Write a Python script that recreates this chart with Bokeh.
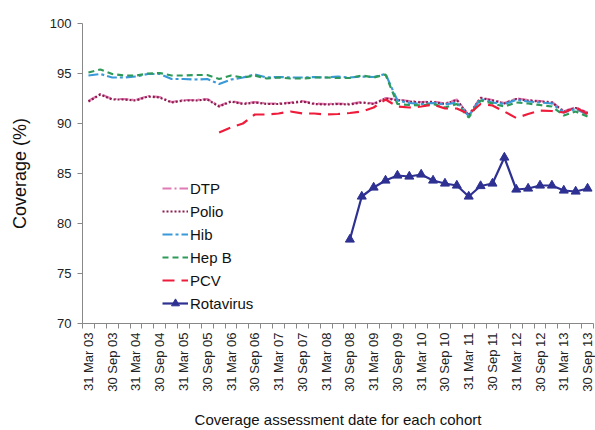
import numpy as np
from bokeh.plotting import figure
from bokeh.models import FixedTicker, Range1d, Legend, LegendItem
from bokeh.embed import file_html
from bokeh.resources import INLINE

# ---- data (quarterly assessment dates, 31 Mar 03 .. 30 Sep 13) ----
tick_labels = ["31 Mar 03", "30 Sep 03", "31 Mar 04", "30 Sep 04", "31 Mar 05",
               "30 Sep 05", "31 Mar 06", "30 Sep 06", "31 Mar 07", "30 Sep 07",
               "31 Mar 08", "30 Sep 08", "31 Mar 09", "30 Sep 09", "31 Mar 10",
               "30 Sep 10", "31 Mar 11", "30 Sep 11", "31 Mar 12", "30 Sep 12",
               "31 Mar 13", "30 Sep 13"]
n_quarters = 43

polio = [92.2, 92.9, 92.4, 92.4, 92.3, 92.7, 92.6, 92.1, 92.3, 92.3, 92.4,
         91.7, 92.2, 91.95, 92.1, 91.95, 91.95, 92.05, 92.2, 91.95, 91.9,
         91.95, 91.9, 92.1, 91.95, 92.5, 92.35, 92.2, 92.1, 92.15, 91.95,
         92.35, 90.8, 92.55, 92.3, 92.0, 92.45, 92.3, 92.2, 92.1, 91.2, 91.55, 91.05]
dtp = [92.25, 92.95, 92.45, 92.45, 92.35, 92.75, 92.65, 92.15, 92.35, 92.35, 92.45,
       91.75, 92.25, 92.0, 92.15, 92.0, 92.0, 92.1, 92.25, 92.0, 91.95,
       92.0, 91.95, 92.15, 92.0, 92.55, 92.4, 92.25, 92.15, 92.2, 92.0,
       92.4, 90.85, 92.6, 92.35, 92.05, 92.5, 92.35, 92.25, 92.15, 91.25, 91.6, 91.1]
hib = [94.8, 94.95, 94.6, 94.6, 94.7, 94.95, 94.95, 94.45, 94.45, 94.4, 94.45,
       93.95, 94.4, 94.6, 94.9, 94.6, 94.65, 94.6, 94.6, 94.65, 94.6,
       94.7, 94.6, 94.7, 94.65, 94.95, 92.3, 92.05, 91.95, 92.05, 91.9,
       92.1, 90.75, 92.45, 92.1, 91.95, 92.35, 92.2, 92.1, 92.0, 91.1, 91.45, 90.9]
hepb = [95.1, 95.4, 94.95, 94.8, 94.8, 95.0, 95.05, 94.8, 94.8, 94.85, 94.85,
        94.45, 94.8, 94.6, 94.8, 94.5, 94.6, 94.5, 94.5, 94.6, 94.6,
        94.55, 94.55, 94.8, 94.6, 94.9, 91.95, 91.85, 91.8, 91.95, 91.6,
        91.95, 90.6, 92.3, 92.0, 91.7, 92.1, 92.0, 91.85, 91.7, 90.8, 91.2, 90.7]
pcv_start = 11
pcv = [89.1, 89.6, 90.0, 90.9, 90.9, 91.0, 91.2, 91.0, 91.0, 90.9,
       90.95, 91.05, 91.2, 91.6, 92.4, 91.7, 91.6, 91.7, 91.9, 91.5,
       91.5, 90.95, 91.95, 91.8, 91.2, 90.55, 90.95, 91.3, 91.25, 91.1, 91.6, 90.95]
rota_start = 22
rota = [78.4, 82.7, 83.6, 84.3, 84.8, 84.7, 84.9, 84.3, 84.0, 83.8, 82.7,
        83.75, 84.0, 86.6, 83.4, 83.5, 83.8, 83.8, 83.3, 83.2, 83.5]

x_all = list(range(n_quarters))
x_pcv = list(range(pcv_start, pcv_start + len(pcv)))
x_rota = list(range(rota_start, rota_start + len(rota)))

FONT = "Liberation Sans"

p = figure(width=595, height=430, output_backend="svg", toolbar_location=None,
           x_range=Range1d(-0.5, n_quarters - 0.5), y_range=Range1d(70, 100),
           min_border_left=82, min_border_right=2, min_border_top=23,
           min_border_bottom=107)
p.outline_line_color = None
p.xgrid.visible = False
p.ygrid.visible = False
p.background_fill_color = "white"
p.border_fill_color = "white"

r_dtp = p.line(x_all, dtp, line_color="#E07AB4", line_width=2.2, line_dash="9 3 2 3")
r_polio = p.line(x_all, polio, line_color="#8C1C4C", line_width=2.2, line_dash="2 2")
r_hib = p.line(x_all, hib, line_color="#3A9AD9", line_width=2.2, line_dash="10 3 3 3")
r_hepb = p.line(x_all, hepb, line_color="#2E9A5A", line_width=2.2, line_dash="6 4")
r_pcv = p.line(x_pcv, pcv, line_color="#EE1C3A", line_width=2.2, line_dash="12 7")
r_rota_l = p.line(x_rota, rota, line_color="#2E3192", line_width=2.2)
r_rota_m = p.scatter(x_rota, rota, marker="triangle", size=9,
                     fill_color="#2E3192", line_color="#2E3192")

# axes
p.xaxis.ticker = FixedTicker(ticks=list(range(0, n_quarters, 2)),
                             minor_ticks=[i - 0.5 for i in range(n_quarters + 1)])
p.xaxis.major_label_overrides = {2 * i: lab for i, lab in enumerate(tick_labels)}
p.xaxis.major_label_orientation = np.pi / 2
p.xaxis.major_tick_line_color = None
p.xaxis.major_tick_out = 5
p.xaxis.major_tick_in = 0
p.xaxis.minor_tick_out = 5
p.xaxis.minor_tick_in = 0
p.xaxis.minor_tick_line_color = "#888888"
p.xaxis.major_label_standoff = 4
p.xaxis.axis_label = "Coverage assessment date for each cohort"
p.xaxis.axis_label_standoff = 16

p.yaxis.ticker = FixedTicker(ticks=[70, 75, 80, 85, 90, 95, 100], minor_ticks=[])
p.yaxis.major_tick_out = 5
p.yaxis.major_tick_in = 0
p.yaxis.minor_tick_line_color = None
p.yaxis.major_tick_line_color = "#888888"
p.yaxis.major_label_standoff = 6
p.yaxis.axis_label = "Coverage (%)"
p.yaxis.axis_label_standoff = 17

for ax in (p.xaxis[0], p.yaxis[0]):
    ax.axis_line_color = "#888888"
    ax.major_label_text_font = FONT
    ax.major_label_text_font_size = "13px"
    ax.major_label_text_color = "#222222"
    ax.axis_label_text_font = FONT
    ax.axis_label_text_font_style = "normal"
    ax.axis_label_text_color = "#111111"
p.xaxis.axis_label_text_font_size = "15px"
p.yaxis.axis_label_text_font_size = "18px"

legend = Legend(items=[
    LegendItem(label="DTP", renderers=[r_dtp]),
    LegendItem(label="Polio", renderers=[r_polio]),
    LegendItem(label="Hib", renderers=[r_hib]),
    LegendItem(label="Hep B", renderers=[r_hepb]),
    LegendItem(label="PCV", renderers=[r_pcv]),
    LegendItem(label="Rotavirus", renderers=[r_rota_l, r_rota_m]),
], location=(80, 10))
legend.background_fill_alpha = 0
legend.border_line_color = None
legend.padding = 0
legend.margin = 0
legend.spacing = 3
legend.glyph_width = 26
legend.glyph_height = 20
legend.label_height = 20
legend.label_standoff = 2
legend.label_text_font = FONT
legend.label_text_font_size = "15px"
legend.label_text_color = "#111111"
p.add_layout(legend, "center")

open("out.html", "w").write(file_html(p, INLINE))
